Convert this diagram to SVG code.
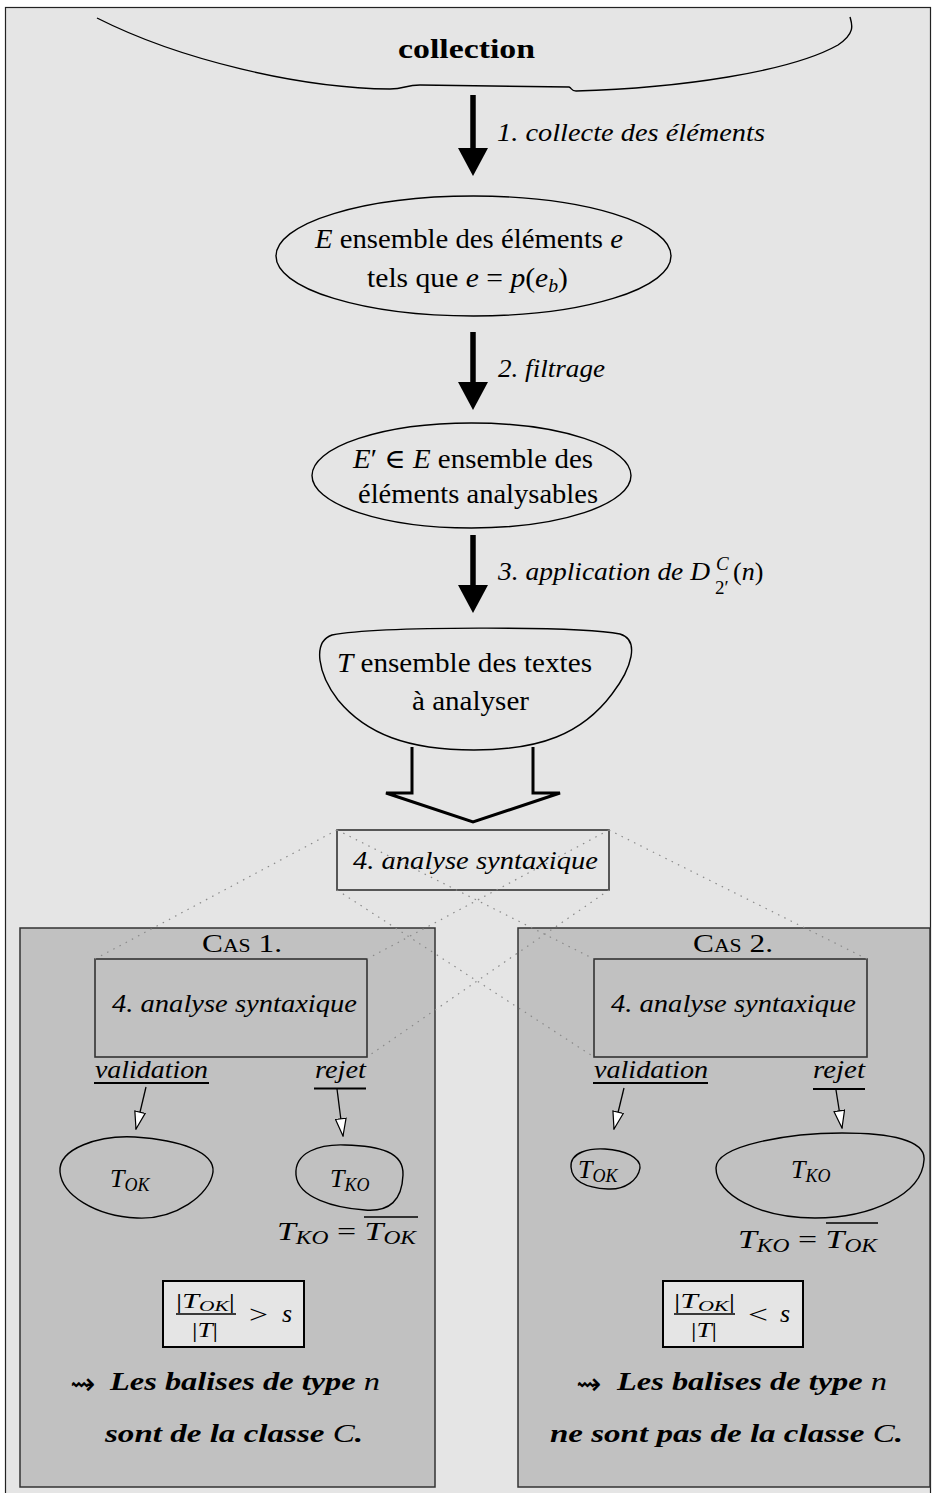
<svg xmlns="http://www.w3.org/2000/svg" width="932" height="1493" viewBox="0 0 932 1493">
<style>
svg{font-family:"Liberation Serif","DejaVu Serif",serif;font-size:26px}
text{fill:#000}
.it{font-style:italic}
.bi{font-style:italic;font-weight:bold}
.sub{font-size:18px;font-style:italic}
.fsub{font-size:14px;font-style:italic}
.sup{font-size:19px}
.shape{fill:none;stroke:#000;stroke-width:1.4}
.panel{fill:#c1c1c1;stroke:#333;stroke-width:1.5}
.ibox{fill:none;stroke:#333;stroke-width:1.6}
.dot{fill:none;stroke:#8a8a8a;stroke-width:1.2;stroke-dasharray:1.5 5.5}
.thick{stroke:#000;stroke-width:5.5;fill:none}
.thin{stroke:#000;stroke-width:1.3;fill:none}
.ul{stroke:#000;stroke-width:2}
.fbox{fill:#e5e5e5;stroke:#000;stroke-width:2}
.sym{font-family:"DejaVu Sans",sans-serif;font-size:30px}
</style>
<defs>
<marker id="big" viewBox="0 0 28 30" markerWidth="28" markerHeight="30" refX="18" refY="15" orient="auto" markerUnits="userSpaceOnUse">
<path d="M0,0 L28,15 L0,30 Z" fill="#000"/>
</marker>
<marker id="hollow" viewBox="0 0 19 12" markerWidth="19" markerHeight="12" refX="18" refY="6" orient="auto" markerUnits="userSpaceOnUse">
<path d="M0.7,0.7 L18,6 L0.7,11.3 Z" fill="#fff" stroke="#000" stroke-width="1.2"/>
</marker>
</defs>
<rect x="0" y="0" width="932" height="1493" fill="#fff"/>
<rect x="5.5" y="7.5" width="925" height="1492" fill="#e5e5e5" stroke="#222" stroke-width="1.2"/>

<g id="collection">
<path class="shape" d="M97,18 C180,60 300,88 390,89 C405,89 405,85 420,85 L569,87 C572,88 571,91 576,91 C680,88 790,72 838,45 C856,33 852,24 850,17"/>
<text x="398" y="58" font-weight="bold" font-size="27" textLength="137" lengthAdjust="spacingAndGlyphs">collection</text>
</g>

<g id="E">
<ellipse class="shape" cx="473.5" cy="256" rx="197.5" ry="60"/>
<text x="315" y="248" font-size="27" textLength="308" lengthAdjust="spacingAndGlyphs"><tspan class="it">E</tspan> ensemble des éléments <tspan class="it">e</tspan></text>
<text x="367" y="287" font-size="27" textLength="201" lengthAdjust="spacingAndGlyphs">tels que <tspan class="it">e</tspan> = <tspan class="it">p</tspan>(<tspan class="it">e</tspan><tspan class="sub" dy="5">b</tspan><tspan dy="-5">)</tspan></text>
</g>

<g id="Eprime">
<ellipse class="shape" cx="471.5" cy="475.5" rx="159.5" ry="52.5"/>
<text x="353" y="468" font-size="27" textLength="240" lengthAdjust="spacingAndGlyphs"><tspan class="it">E</tspan>′ ∈ <tspan class="it">E</tspan> ensemble des</text>
<text x="358" y="503" font-size="27" textLength="240" lengthAdjust="spacingAndGlyphs">éléments analysables</text>
</g>

<g id="T">
<path class="shape" d="M332,635 C380,626 580,626 620,634 C640,640 632,668 612,694 C582,734 540,750 474,750 C408,750 366,734 338,700 C318,674 312,642 332,635 Z"/>
<text x="337" y="672" font-size="27" textLength="255" lengthAdjust="spacingAndGlyphs"><tspan class="it">T</tspan> ensemble des textes</text>
<text x="412" y="710" font-size="27" textLength="117" lengthAdjust="spacingAndGlyphs">à analyser</text>
</g>

<g id="analyse">
<rect class="ibox" x="337" y="830" width="272" height="60"/>
<text class="it" x="353" y="869" textLength="245" lengthAdjust="spacingAndGlyphs">4. analyse syntaxique</text>
</g>

<g id="cas1">
<rect class="panel" x="20" y="928" width="415" height="559"/>
<text x="202" y="952" font-variant="small-caps" textLength="80" lengthAdjust="spacingAndGlyphs">Cas 1.</text>
<rect class="ibox" x="95" y="959" width="272" height="98"/>
<text class="it" x="112" y="1012" textLength="245" lengthAdjust="spacingAndGlyphs">4. analyse syntaxique</text>
<text class="it" x="95" y="1078" textLength="113" lengthAdjust="spacingAndGlyphs">validation</text>
<line class="ul" x1="94" y1="1083" x2="209" y2="1083"/>
<text class="it" x="315" y="1078" textLength="51" lengthAdjust="spacingAndGlyphs">rejet</text>
<line class="ul" x1="314" y1="1088.5" x2="366" y2="1088.5"/>
<path class="shape" d="M60,1172 C58,1148 100,1135 135,1137 C180,1140 215,1152 213,1172 C210,1195 175,1220 137,1218 C95,1216 62,1195 60,1172 Z"/>
<text x="110" y="1187"><tspan class="it">T</tspan><tspan class="sub" dy="4">OK</tspan></text>
<path class="shape" d="M296,1175 C294,1152 320,1144 345,1145 C380,1146 404,1152 403,1175 C402,1200 390,1212 365,1210 C335,1208 298,1198 296,1175 Z"/>
<text x="330" y="1187"><tspan class="it">T</tspan><tspan class="sub" dy="4">KO</tspan></text>
<text x="277" y="1240" textLength="139" lengthAdjust="spacingAndGlyphs"><tspan class="it">T</tspan><tspan class="sub" dy="4">KO</tspan><tspan dy="-4"> = </tspan><tspan class="it">T</tspan><tspan class="sub" dy="4">OK</tspan></text>
<line x1="364" y1="1217" x2="418" y2="1217" stroke="#000" stroke-width="1.5"/>
<rect class="fbox" x="163" y="1281" width="141" height="66"/>
<text x="176" y="1308" font-size="20" textLength="59" lengthAdjust="spacingAndGlyphs">|<tspan class="it">T</tspan><tspan class="fsub" dy="3">OK</tspan><tspan dy="-3">|</tspan></text>
<line x1="176" y1="1314" x2="236" y2="1314" stroke="#000" stroke-width="1.3"/>
<text x="192" y="1337" font-size="20" textLength="26" lengthAdjust="spacingAndGlyphs">|<tspan class="it">T</tspan>|</text>
<text x="249" y="1323" textLength="19" lengthAdjust="spacingAndGlyphs">&gt;</text>
<text class="it" x="282" y="1322">s</text>
<text class="sym" x="70" y="1394">⇝</text>
<text x="110" y="1390" textLength="270" lengthAdjust="spacingAndGlyphs"><tspan class="bi">Les balises de type </tspan><tspan class="it">n</tspan></text>
<text x="105" y="1442" textLength="258" lengthAdjust="spacingAndGlyphs"><tspan class="bi">sont de la classe </tspan><tspan class="it">C</tspan><tspan class="bi">.</tspan></text>
</g>

<g id="cas2">
<rect class="panel" x="518" y="928" width="412" height="559"/>
<text x="693" y="952" font-variant="small-caps" textLength="80" lengthAdjust="spacingAndGlyphs">Cas 2.</text>
<rect class="ibox" x="594" y="959" width="273" height="98"/>
<text class="it" x="611" y="1012" textLength="245" lengthAdjust="spacingAndGlyphs">4. analyse syntaxique</text>
<text class="it" x="594" y="1078" textLength="114" lengthAdjust="spacingAndGlyphs">validation</text>
<line class="ul" x1="593" y1="1083" x2="708" y2="1083"/>
<text class="it" x="813" y="1078" textLength="52" lengthAdjust="spacingAndGlyphs">rejet</text>
<line class="ul" x1="813" y1="1089" x2="865" y2="1089"/>
<path class="shape" d="M571,1167 C570,1152 590,1148 605,1149 C625,1150 641,1158 640,1168 C638,1180 625,1190 608,1189 C588,1188 572,1182 571,1167 Z"/>
<text x="578" y="1178"><tspan class="it">T</tspan><tspan class="sub" dy="4">OK</tspan></text>
<path class="shape" d="M716,1168 C716,1145 790,1133 842,1133 C890,1133 926,1140 924,1160 C922,1195 870,1218 815,1218 C760,1218 716,1195 716,1168 Z"/>
<text x="791" y="1178"><tspan class="it">T</tspan><tspan class="sub" dy="4">KO</tspan></text>
<text x="738" y="1248" textLength="139" lengthAdjust="spacingAndGlyphs"><tspan class="it">T</tspan><tspan class="sub" dy="4">KO</tspan><tspan dy="-4"> = </tspan><tspan class="it">T</tspan><tspan class="sub" dy="4">OK</tspan></text>
<line x1="826" y1="1223" x2="878" y2="1223" stroke="#000" stroke-width="1.5"/>
<rect class="fbox" x="663" y="1281" width="140" height="66"/>
<text x="674" y="1308" font-size="20" textLength="61" lengthAdjust="spacingAndGlyphs">|<tspan class="it">T</tspan><tspan class="fsub" dy="3">OK</tspan><tspan dy="-3">|</tspan></text>
<line x1="674" y1="1314" x2="735" y2="1314" stroke="#000" stroke-width="1.3"/>
<text x="691" y="1337" font-size="20" textLength="26" lengthAdjust="spacingAndGlyphs">|<tspan class="it">T</tspan>|</text>
<text x="748" y="1323" textLength="20" lengthAdjust="spacingAndGlyphs">&lt;</text>
<text class="it" x="780" y="1322">s</text>
<text class="sym" x="576" y="1394">⇝</text>
<text x="617" y="1390" textLength="270" lengthAdjust="spacingAndGlyphs"><tspan class="bi">Les balises de type </tspan><tspan class="it">n</tspan></text>
<text x="550" y="1442" textLength="353" lengthAdjust="spacingAndGlyphs"><tspan class="bi">ne sont pas de la classe </tspan><tspan class="it">C</tspan><tspan class="bi">.</tspan></text>
</g>

<g id="connectors">
<line class="thick" x1="473" y1="95" x2="473" y2="166" marker-end="url(#big)"/>
<text class="it" x="497" y="141" textLength="268" lengthAdjust="spacingAndGlyphs">1. collecte des éléments</text>
<line class="thick" x1="473" y1="332" x2="473" y2="400" marker-end="url(#big)"/>
<text class="it" x="498" y="377" textLength="107" lengthAdjust="spacingAndGlyphs">2. filtrage</text>
<line class="thick" x1="473" y1="535" x2="473" y2="603" marker-end="url(#big)"/>
<text class="it" x="498" y="580" textLength="212" lengthAdjust="spacingAndGlyphs">3. application de D</text>
<text class="it sup" x="716" y="570">C</text>
<text class="sup" x="715" y="594">2′</text>
<text x="733" y="580">(<tspan class="it">n</tspan>)</text>
<path d="M412,747 V793 H386 L473,822 L560,793 H533 V747" fill="none" stroke="#000" stroke-width="3"/>
<line class="dot" x1="337" y1="830" x2="95" y2="959"/>
<line class="dot" x1="337" y1="830" x2="594" y2="959"/>
<line class="dot" x1="609" y1="830" x2="367" y2="959"/>
<line class="dot" x1="609" y1="830" x2="867" y2="959"/>
<line class="dot" x1="337" y1="890" x2="594" y2="1057"/>
<line class="dot" x1="609" y1="890" x2="367" y2="1057"/>
<line class="thin" x1="146" y1="1087" x2="136" y2="1129" marker-end="url(#hollow)"/>
<line class="thin" x1="337" y1="1089" x2="343" y2="1136" marker-end="url(#hollow)"/>
<line class="thin" x1="624" y1="1088" x2="614" y2="1129" marker-end="url(#hollow)"/>
<line class="thin" x1="836" y1="1090" x2="842" y2="1128" marker-end="url(#hollow)"/>
</g>
</svg>
